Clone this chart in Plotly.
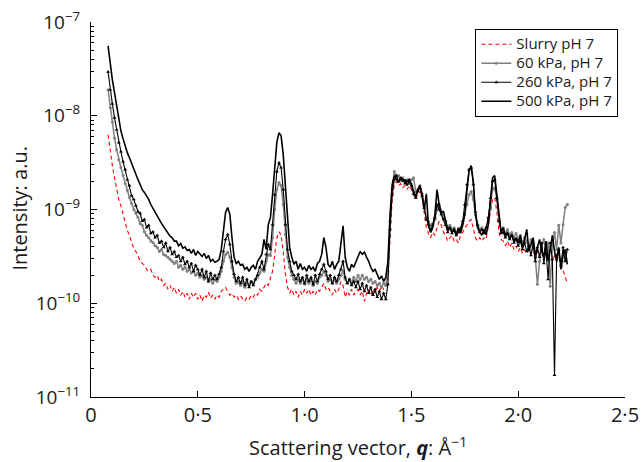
import plotly.graph_objects as go

# Scattering vector q (1/Angstrom)
q = [
    0.08, 0.09, 0.10, 0.11, 0.12, 0.13, 0.14, 0.15, 0.16, 0.17,
    0.18, 0.19, 0.20, 0.21, 0.22, 0.23, 0.24, 0.25, 0.26, 0.27,
    0.28, 0.29, 0.30, 0.31, 0.32, 0.33, 0.34, 0.35, 0.36, 0.37,
    0.38, 0.39, 0.40, 0.41, 0.42, 0.43, 0.44, 0.45, 0.46, 0.47,
    0.48, 0.49, 0.50, 0.51, 0.52, 0.53, 0.54, 0.55, 0.56, 0.57,
    0.58, 0.59, 0.60, 0.61, 0.62, 0.63, 0.64, 0.65, 0.66, 0.67,
    0.68, 0.69, 0.70, 0.71, 0.72, 0.73, 0.74, 0.75, 0.76, 0.77,
    0.78, 0.79, 0.80, 0.81, 0.82, 0.83, 0.84, 0.85, 0.86, 0.87,
    0.88, 0.89, 0.90, 0.91, 0.92, 0.93, 0.94, 0.95, 0.96, 0.97,
    0.98, 0.99, 1.00, 1.01, 1.02, 1.03, 1.04, 1.05, 1.06, 1.07,
    1.08, 1.09, 1.10, 1.11, 1.12, 1.13, 1.14, 1.15, 1.16, 1.17,
    1.18, 1.19, 1.20, 1.21, 1.22, 1.23, 1.24, 1.25, 1.26, 1.27,
    1.28, 1.29, 1.30, 1.31, 1.32, 1.33, 1.34, 1.35, 1.36, 1.37,
    1.38, 1.39, 1.40, 1.41, 1.42, 1.43, 1.44, 1.45, 1.46, 1.47,
    1.48, 1.49, 1.50, 1.51, 1.52, 1.53, 1.54, 1.55, 1.56, 1.57,
    1.58, 1.59, 1.60, 1.61, 1.62, 1.63, 1.64, 1.65, 1.66, 1.67,
    1.68, 1.69, 1.70, 1.71, 1.72, 1.73, 1.74, 1.75, 1.76, 1.77,
    1.78, 1.79, 1.80, 1.81, 1.82, 1.83, 1.84, 1.85, 1.86, 1.87,
    1.88, 1.89, 1.90, 1.91, 1.92, 1.93, 1.94, 1.95, 1.96, 1.97,
    1.98, 1.99, 2.00, 2.01, 2.02, 2.03, 2.04, 2.05, 2.06, 2.07,
    2.08, 2.09, 2.10, 2.11, 2.12, 2.13, 2.14, 2.15, 2.16, 2.17,
    2.18, 2.19, 2.20, 2.21, 2.22, 2.23,
]

UNIT = 1e-10  # intensities below are in units of 1e-10 a.u.

slurry_ph7 = [
    62.8, 41.4, 29.4, 21.9, 16.3, 12.8, 11.0, 9.1, 7.1, 6.0,
    5.3, 4.6, 3.85, 3.57, 3.24, 2.8, 2.66, 2.54, 2.3, 2.19,
    2.3, 1.99, 1.89, 1.99, 1.71, 1.8, 1.55, 1.63, 1.41, 1.55,
    1.34, 1.48, 1.28, 1.41, 1.22, 1.34, 1.16, 1.28, 1.10, 1.28,
    1.16, 1.28, 1.10, 1.22, 1.05, 1.22, 1.16, 1.31, 1.13, 1.22,
    1.10, 1.22, 1.16, 1.34, 1.41, 1.48, 1.34, 1.22, 1.28, 1.16,
    1.22, 1.10, 1.19, 1.13, 1.05, 1.16, 1.10, 1.22, 1.16, 1.28,
    1.22, 1.41, 1.34, 1.48, 1.63, 1.55, 1.8, 2.19, 3.32, 5.0,
    5.8, 5.3, 3.57, 2.04, 1.48, 1.28, 1.41, 1.22, 1.34, 1.16,
    1.34, 1.22, 1.41, 1.28, 1.41, 1.22, 1.34, 1.22, 1.41, 1.34,
    1.48, 1.63, 1.41, 1.48, 1.34, 1.22, 1.41, 1.28, 1.41, 1.71,
    1.55, 1.16, 1.34, 1.22, 1.41, 1.22, 1.34, 1.41, 1.22, 1.34,
    1.05, 1.28, 1.41, 1.22, 1.41, 1.28, 1.48, 1.34, 1.55, 1.41,
    1.48, 1.89, 4.8, 12.8, 18.5, 20, 18, 18.9, 17.1, 18,
    16.3, 18, 16.3, 14.1, 12.8, 14.4, 15.6, 13.4, 9.5, 6.4,
    5.55, 5.0, 5.7, 5.3, 6.4, 7.5, 6.8, 5.7, 5.3, 4.6,
    5.0, 5.3, 4.6, 4.8, 4.4, 5.3, 5.7, 6.4, 6.8, 7.5,
    7.83, 6.13, 5.0, 4.6, 5.0, 4.6, 5.0, 4.8, 6.8, 10,
    12.8, 13.4, 9.5, 5.7, 4.8, 4.6, 4.1, 4.6, 3.94, 4.4,
    3.75, 4.1, 3.57, 3.94, 3.4, 3.75, 3.4, 3.75, 3.24, 3.57,
    3.24, 3.57, 3.1, 3.4, 3.1, 3.4, 2.94, 3.24, 2.8, 3.24,
    2.8, 3.1, 2.66, 2.3, 1.99, 1.63,
]

kpa60_ph7 = [
    189, 122, 86, 58, 43.5, 34, 28, 23, 18.9, 15.9,
    13.4, 11.6, 10, 9.1, 8.2, 7.1, 6.8, 5.8, 5.3, 5.0,
    4.6, 4.45, 4.1, 3.94, 3.57, 3.75, 3.32, 3.24, 3.1, 2.94,
    2.8, 2.66, 2.8, 2.42, 2.54, 2.3, 2.42, 2.19, 2.3, 2.1,
    2.19, 1.99, 2.1, 1.89, 1.99, 1.8, 1.89, 1.71, 1.8, 1.63,
    1.8, 1.71, 1.89, 2.19, 2.8, 3.32, 3.5, 3.1, 2.42, 1.89,
    1.63, 1.71, 1.55, 1.71, 1.48, 1.63, 1.55, 1.71, 1.63, 1.8,
    1.89, 2.1, 2.3, 2.19, 2.8, 3.32, 3.24, 5.0, 10, 16.3,
    19.4, 18, 11.3, 5.42, 3.1, 2.42, 1.99, 1.8, 1.63, 1.8,
    1.63, 1.8, 1.59, 1.8, 1.63, 1.8, 1.55, 1.71, 1.63, 1.89,
    1.99, 2.19, 1.99, 1.71, 1.8, 1.63, 1.8, 1.63, 1.8, 1.99,
    2.19, 1.8, 1.63, 1.8, 1.63, 1.89, 1.71, 1.99, 1.8, 1.99,
    1.8, 1.89, 1.71, 1.8, 1.63, 1.71, 1.55, 1.63, 1.48, 1.63,
    1.55, 2.19, 7.5, 16.3, 25.4, 21.8, 23, 20.3, 21.8, 20,
    20.8, 18.9, 20.8, 21.8, 15.6, 16.3, 18, 14.7, 10.9, 8.2,
    7.5, 6.8, 7.1, 7.83, 10, 11.3, 9.5, 8.2, 7.5, 6.4,
    6.8, 6.13, 6.4, 5.7, 6.13, 6.4, 7.1, 8.85, 11.3, 14.4,
    15.6, 12.8, 8.85, 6.9, 6.13, 6.4, 5.7, 6.4, 7.83, 11.3,
    16.3, 17.1, 12.8, 7.5, 5.7, 6.4, 5.55, 6.13, 5.3, 5.7,
    5.0, 5.55, 4.8, 5.3, 4.4, 5.0, 4.6, 4.1, 4.8, 3.75,
    3.1, 1.59, 2.8, 3.94, 4.8, 3.75, 4.4, 1.52, 4.1, 5.7,
    3.75, 6.8, 4.4, 6.9, 10.5, 11.3,
]

kpa260_ph7 = [
    294, 189, 134, 95, 71, 51.6, 41.4, 32.4, 26.7, 20.8,
    18.0, 14.1, 12.8, 11.0, 9.5, 9.1, 7.5, 7.83, 6.4, 6.8,
    5.55, 5.8, 5.0, 5.3, 4.4, 4.6, 3.94, 4.4, 3.57, 3.94,
    3.32, 3.57, 3.1, 3.24, 2.8, 3.1, 2.6, 2.8, 2.42, 2.66,
    2.19, 2.54, 2.3, 1.99, 2.3, 1.89, 2.19, 1.71, 2.1, 1.8,
    1.99, 1.8, 2.04, 2.42, 3.57, 4.8, 5.42, 4.24, 2.8, 2.04,
    1.71, 1.89, 1.63, 1.89, 1.55, 1.8, 1.48, 1.71, 1.55, 1.8,
    1.99, 2.42, 2.8, 2.3, 3.32, 4.24, 3.75, 6.9, 14.4, 25.4,
    31.6, 27.9, 16.3, 6.9, 3.75, 2.8, 2.19, 1.99, 1.8, 2.04,
    1.71, 1.89, 1.63, 1.99, 1.71, 1.89, 1.59, 1.99, 1.71, 2.04,
    2.3, 2.6, 2.19, 1.8, 1.99, 1.63, 1.89, 1.71, 1.99, 2.3,
    2.8, 1.89, 1.63, 1.8, 1.55, 1.71, 1.48, 1.71, 1.41, 1.63,
    1.34, 1.55, 1.28, 1.48, 1.22, 1.41, 1.16, 1.34, 1.10, 1.28,
    1.10, 1.59, 6.13, 14.4, 20.8, 23, 20, 21.8, 20.8, 18.9,
    20, 20.8, 18, 14.7, 13.3, 15.6, 17.1, 14.1, 10.4, 7.83,
    6.9, 6.13, 6.8, 8.2, 11.3, 10, 8.85, 7.83, 6.8, 5.7,
    6.4, 5.55, 6.13, 5.3, 5.7, 6.13, 7.5, 11.3, 18.5, 26.7,
    27.9, 18.5, 9.5, 6.8, 5.7, 6.13, 5.55, 6.4, 8.2, 13.3,
    20, 20.8, 13.3, 7.5, 5.55, 5.7, 5.0, 5.55, 4.8, 5.3,
    4.4, 4.8, 4.1, 4.6, 3.75, 4.4, 3.57, 4.1, 3.24, 4.4,
    2.8, 3.94, 3.1, 4.4, 2.66, 3.75, 1.8, 4.4, 2.94, 0.171,
    3.24, 3.75, 2.54, 3.94, 2.8, 3.75,
]

kpa500_ph7 = [
    556, 340, 242, 176, 128, 91, 69, 57, 46.8, 40.4,
    35.7, 30.9, 28.0, 24.1, 20.8, 18.5, 16.3, 15.2, 14.1, 12.8,
    11.3, 10.2, 9.5, 8.6, 7.8, 7.1, 6.6, 6.1, 5.7, 5.2,
    5.0, 4.6, 4.6, 4.1, 4.35, 3.85, 4.0, 3.66, 3.75, 3.4,
    3.75, 3.24, 3.57, 3.32, 3.16, 3.40, 3.0, 3.24, 2.80, 2.94,
    2.73, 2.80, 2.94, 3.75, 6.1, 9.3, 10.5, 8.9, 5.0, 3.1,
    2.66, 2.8, 2.54, 2.6, 2.3, 2.42, 2.19, 2.42, 2.54, 2.3,
    2.8, 3.1, 3.32, 4.8, 3.75, 6.9, 8.2, 14.4, 30, 52,
    66, 61, 38.5, 16.3, 6.9, 3.94, 3.1, 2.6, 2.8, 2.3,
    2.66, 2.3, 2.42, 2.19, 2.54, 2.3, 2.42, 2.19, 2.66, 2.8,
    3.32, 5.0, 3.94, 2.6, 2.42, 2.8, 2.3, 2.6, 2.8, 4.24,
    6.7, 3.1, 2.42, 2.19, 2.6, 2.42, 2.8, 3.24, 3.57, 3.32,
    3.5, 3.1, 2.8, 2.42, 2.19, 2.3, 2.04, 1.8, 1.96, 1.71,
    1.89, 2.8, 8.8, 18.5, 23, 20.8, 19.4, 21.8, 20, 20.8,
    18, 20, 18.9, 15.6, 13.7, 16.3, 18, 14.4, 10.0, 14.7,
    6.7, 5.7, 6.4, 8.85, 16.3, 11.3, 9.3, 9.5, 7.5, 6.13,
    6.4, 5.7, 6.13, 5.3, 6.4, 5.6, 6.8, 8.85, 15.9, 25.8,
    29.4, 19.9, 8.85, 6.4, 5.7, 5.3, 6.13, 5.4, 6.9, 12.8,
    21.8, 23, 14.4, 7.8, 5.7, 6.4, 5.3, 5.7, 4.8, 5.4,
    4.6, 5.0, 4.4, 5.3, 3.94, 4.8, 6.13, 3.6, 4.4, 5.0,
    3.24, 4.1, 4.8, 3.6, 3.1, 4.6, 2.8, 3.75, 5.3, 3.6,
    2.8, 3.94, 2.3, 3.24, 3.75, 2.6,
]

series_names = ["Slurry pH 7", "60 kPa, pH 7", "260 kPa, pH 7", "500 kPa, pH 7"]
x_tickvals = [0, 0.5, 1.0, 1.5, 2.0, 2.5]
x_ticktext = ["0", "0·5", "1·0", "1·5", "2·0", "2·5"]
y_exponents = [-11, -10, -9, -8, -7]

FONT = "Open Sans"
TXT = "#1a1a1a"


def scaled(vals):
    return [v * UNIT for v in vals]


def legend_label(name):
    # larger glyphs than the compact legend row height
    return '<span style="font-size:15px">%s</span>' % name


fig = go.Figure()
fig.add_trace(go.Scatter(
    x=q, y=scaled(slurry_ph7), name=legend_label(series_names[0]), mode="lines",
    line=dict(color="#ff0000", width=1.1, dash="4px,3px"),
))
fig.add_trace(go.Scatter(
    x=q, y=scaled(kpa60_ph7), name=legend_label(series_names[1]), mode="lines+markers",
    line=dict(color="#808080", width=1.5),
    marker=dict(symbol="circle", size=3, color="#808080"),
))
fig.add_trace(go.Scatter(
    x=q, y=scaled(kpa260_ph7), name=legend_label(series_names[2]), mode="lines+markers",
    line=dict(color="#000000", width=1.1),
    marker=dict(symbol="triangle-up", size=3.5, color="#000000"),
))
fig.add_trace(go.Scatter(
    x=q, y=scaled(kpa500_ph7), name=legend_label(series_names[3]), mode="lines",
    line=dict(color="#000000", width=1.6),
))

minor_vals = [m * 10.0 ** e for e in y_exponents[:-1] for m in range(2, 10)]

fig.update_layout(
    width=643, height=462,
    margin=dict(l=91, r=18, t=22, b=65, autoexpand=False),
    paper_bgcolor="white", plot_bgcolor="white",
    font=dict(family=FONT, size=19, color=TXT),
    showlegend=True,
    legend=dict(
        x=0.7198, y=0.982, xanchor="left", yanchor="top",
        bgcolor="white", bordercolor="#000000", borderwidth=1,
        font=dict(family=FONT, size=12, color=TXT),
        tracegroupgap=0, itemwidth=30,
    ),
    xaxis=dict(
        range=[0, 2.5], tickmode="array", tickvals=x_tickvals, ticktext=x_ticktext,
        ticks="inside", ticklen=6, tickcolor="#000000", tickwidth=1,
        showline=True, linecolor="#000000", linewidth=1, mirror=False,
        showgrid=False, zeroline=False, ticklabeloverflow="allow",
        automargin=False,
        tickfont=dict(family=FONT, size=20, color=TXT),
    ),
    yaxis=dict(
        type="log", range=[-11, -7], tickmode="array",
        tickvals=[10.0 ** e for e in y_exponents],
        ticktext=["10<sup>−%d</sup>" % (-e) for e in y_exponents],
        ticks="inside", ticklen=6, tickcolor="#000000", tickwidth=1,
        minor=dict(tickmode="array", tickvals=minor_vals, ticks="inside",
                   ticklen=3, tickcolor="#000000", tickwidth=1, showgrid=False),
        showline=True, linecolor="#000000", linewidth=1, mirror=False,
        showgrid=False, zeroline=False, ticklabeloverflow="allow",
        automargin=False, ticklabelstandoff=6,
        tickfont=dict(family=FONT, size=19, color=TXT),
    ),
    annotations=[
        dict(
            text="Scattering vector, <b><i>q</i></b>: Å<sup>−1</sup>",
            xref="paper", yref="paper", x=0.5, y=-0.133,
            xanchor="center", yanchor="middle", showarrow=False,
            font=dict(family=FONT, size=20, color=TXT),
        ),
        dict(
            text="Intensity: a.u.", textangle=-90,
            xref="paper", yref="paper", x=-0.133, y=0.505,
            xanchor="center", yanchor="middle", showarrow=False,
            font=dict(family=FONT, size=20, color=TXT),
        ),
    ],
)

fig.write_html(
    "out.html",
    config={"displayModeBar": False},
    post_script=(
        "document.body.style.margin='0';"
        "document.body.style.overflow='hidden';"
        "document.documentElement.style.overflow='hidden';"
    ),
)
